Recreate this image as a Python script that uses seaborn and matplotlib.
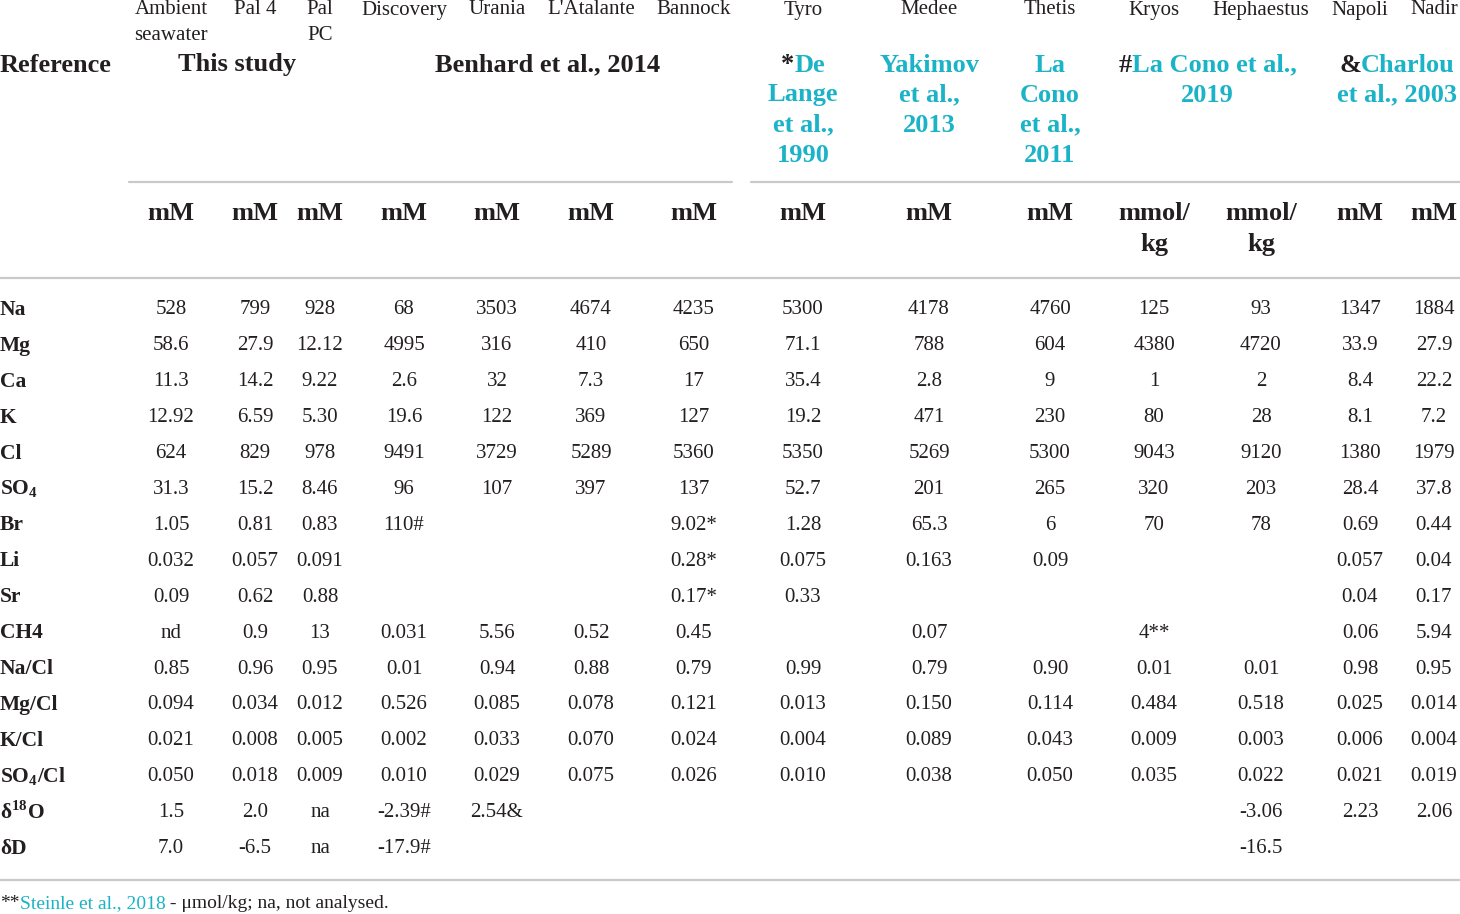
import matplotlib
matplotlib.use("Agg")
import matplotlib.pyplot as plt
import seaborn as sns
import pandas as pd

sites = ["Ambient\nseawater", "Pal 4", "Pal\nPC", "Discovery", "Urania", "L'Atalante",
         "Bannock", "Tyro", "Medee", "Thetis", "Kryos", "Hephaestus", "Napoli", "Nadir"]
units = ["mM"] * 10 + ["mmol/\nkg", "mmol/\nkg"] + ["mM", "mM"]
rows = ["Na", "Mg", "Ca", "K", "Cl", r"SO$_\mathbf{4}$", "Br", "Li", "Sr", "CH4",
        "Na/Cl", "Mg/Cl", "K/Cl", r"SO$_\mathbf{4}$/Cl", r"δ$^\mathbf{18}$O", "δD"]

ambient = ["528", "58.6", "11.3", "12.92", "624", "31.3", "1.05", "0.032", "0.09", "nd",
           "0.85", "0.094", "0.021", "0.050", "1.5", "7.0"]
pal4 = ["799", "27.9", "14.2", "6.59", "829", "15.2", "0.81", "0.057", "0.62", "0.9",
        "0.96", "0.034", "0.008", "0.018", "2.0", "-6.5"]
palpc = ["928", "12.12", "9.22", "5.30", "978", "8.46", "0.83", "0.091", "0.88", "13",
         "0.95", "0.012", "0.005", "0.009", "na", "na"]
discovery = ["68", "4995", "2.6", "19.6", "9491", "96", "110#", "", "", "0.031",
             "0.01", "0.526", "0.002", "0.010", "-2.39#", "-17.9#"]
urania = ["3503", "316", "32", "122", "3729", "107", "", "", "", "5.56",
          "0.94", "0.085", "0.033", "0.029", "2.54&", ""]
atalante = ["4674", "410", "7.3", "369", "5289", "397", "", "", "", "0.52",
            "0.88", "0.078", "0.070", "0.075", "", ""]
bannock = ["4235", "650", "17", "127", "5360", "137", "9.02*", "0.28*", "0.17*", "0.45",
           "0.79", "0.121", "0.024", "0.026", "", ""]
tyro = ["5300", "71.1", "35.4", "19.2", "5350", "52.7", "1.28", "0.075", "0.33", "",
        "0.99", "0.013", "0.004", "0.010", "", ""]
medee = ["4178", "788", "2.8", "471", "5269", "201", "65.3", "0.163", "", "0.07",
         "0.79", "0.150", "0.089", "0.038", "", ""]
thetis = ["4760", "604", "9", "230", "5300", "265", "6", "0.09", "", "",
          "0.90", "0.114", "0.043", "0.050", "", ""]
kryos = ["125", "4380", "1", "80", "9043", "320", "70", "", "", "4**",
         "0.01", "0.484", "0.009", "0.035", "", ""]
hephaestus = ["93", "4720", "2", "28", "9120", "203", "78", "", "", "",
              "0.01", "0.518", "0.003", "0.022", "-3.06", "-16.5"]
napoli = ["1347", "33.9", "8.4", "8.1", "1380", "28.4", "0.69", "0.057", "0.04", "0.06",
          "0.98", "0.025", "0.006", "0.021", "2.23", ""]
nadir = ["1884", "27.9", "22.2", "7.2", "1979", "37.8", "0.44", "0.04", "0.17", "5.94",
         "0.95", "0.014", "0.004", "0.019", "2.06", ""]

table = pd.DataFrame(
    dict(zip(range(len(sites)), [ambient, pal4, palpc, discovery, urania, atalante, bannock,
                                  tyro, medee, thetis, kryos, hephaestus, napoli, nadir])))

# reference groups: (first col, last col, lines as lists of (text, is_link))
ref_groups = [
    (0, 2, [[("This study", False)]]),
    (3, 6, [[("Benhard et al., 2014", False)]]),
    (7, 7, [[("*", False), ("De", True)], [("Lange", True)], [("et al.,", True)], [("1990", True)]]),
    (8, 8, [[("Yakimov", True)], [("et al.,", True)], [("2013", True)]]),
    (9, 9, [[("La", True)], [("Cono", True)], [("et al.,", True)], [("2011", True)]]),
    (10, 11, [[("#", False), ("La Cono et al.,", True)], [("2019", True)]]),
    (12, 13, [[("&", False), ("Charlou", True)], [("et al., 2003", True)]]),
]

### Layout / style

col_x = [171, 255, 320, 404, 497, 591, 694, 803, 929, 1050, 1154, 1261, 1360, 1434]
row_y0, row_dy = 310, 35.9
black = "#231f20"
link = "#1bb3c7"
rule = "#c9c9c9"

sns.set_theme(style="white")
plt.rcParams["font.family"] = ["Liberation Serif", "DejaVu Serif"]
plt.rcParams["mathtext.fontset"] = "custom"
plt.rcParams["mathtext.rm"] = "Liberation Serif"
plt.rcParams["mathtext.bf"] = "Liberation Serif:bold"

fig = plt.figure(figsize=(14.6, 9.14), dpi=100)
ax = fig.add_axes([0, 0, 1, 1])
ax.set_xlim(0, 1460)
ax.set_ylim(914, 0)
ax.axis("off")
renderer = fig.canvas.get_renderer()


def put_parts(xc, y, parts, size, weight):
    # draw a line made of differently coloured pieces, centred on xc
    widths = []
    for txt, _ in parts:
        t = ax.text(0, y, txt, fontsize=size, fontweight=weight)
        widths.append(t.get_window_extent(renderer).width)
        t.remove()
    x = xc - sum(widths) / 2
    for (txt, is_link), w in zip(parts, widths):
        ax.text(x, y, txt, fontsize=size, fontweight=weight, color=link if is_link else black,
                ha="left", va="center")
        x += w


# site names
for x, name in zip(col_x, sites):
    for i, line in enumerate(name.split("\n")):
        ax.text(x, 10 + i * 26, line, fontsize=15, color=black, ha="center", va="center")

# reference row
ax.text(0, 65, "Reference", fontsize=19, fontweight="bold", color=black, ha="left", va="center")
for c0, c1, lines in ref_groups:
    xc = (col_x[c0] + col_x[c1]) / 2
    if c0 == 0:
        xc = 237
    if c0 == 3:
        xc = 548
    for i, parts in enumerate(lines):
        put_parts(xc, 65 + i * 30, parts, 19, "bold")

# rules
ax.plot([129, 732], [182, 182], color=rule, lw=1.6)
ax.plot([751, 1460], [182, 182], color=rule, lw=1.6)
ax.plot([0, 1460], [278, 278], color=rule, lw=1.6)
ax.plot([0, 1460], [880, 880], color=rule, lw=1.6)

# units
for x, u in zip(col_x, units):
    for i, line in enumerate(u.split("\n")):
        ax.text(x, 214 + i * 31, line, fontsize=19, fontweight="bold", color=black,
                ha="center", va="center")

# body
for r, label in enumerate(rows):
    y = row_y0 + r * row_dy
    ax.text(0, y, label, fontsize=15.5, fontweight="bold", color=black, ha="left", va="center")
    for c, x in enumerate(col_x):
        val = table.iloc[r, c]
        if val:
            ax.text(x, y, val, fontsize=15, color=black, ha="center", va="center")

# footnote
foot = [("**", False), ("Steinle et al., 2018", True), (" - μmol/kg; na, not analysed.", False)]
x = 0
for txt, is_link in foot:
    t = ax.text(x, 904, txt, fontsize=14, color=link if is_link else black, ha="left", va="center")
    x += t.get_window_extent(renderer).width

fig.savefig("out.png", dpi=100)
